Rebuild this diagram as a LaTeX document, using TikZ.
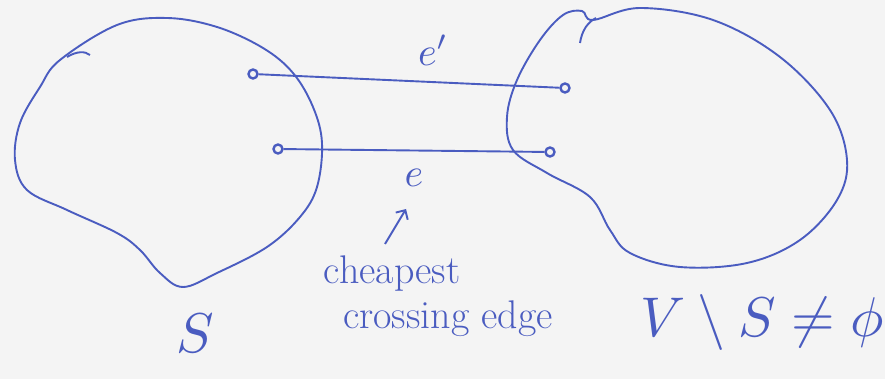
\documentclass[tikz,border=0pt]{standalone}
\usepackage{amsmath,amssymb}
\usepackage{tikz}
\usetikzlibrary{arrows.meta,positioning,calc}
\usepackage{xcolor}
\definecolor{pen}{HTML}{4A5CC0}
\definecolor{paper}{HTML}{F4F4F4}
\tikzset{
  vert/.style={circle, draw=pen, line width=2.4pt, fill=paper, inner sep=0pt, minimum size=9pt},
  cut/.style={pen, line width=1.9pt},
  hand/.style={pen, font=\fontsize{40}{42}\selectfont},
  mathlbl/.style={pen, scale=4, transform shape},
  big/.style={pen, scale=5.6, transform shape}
}
\begin{document}
\begin{tikzpicture}[x=1pt, y=-1pt]
\fill[paper] (0,0) rectangle (885,379);
\useasboundingbox (0,0) rectangle (885,379);
% =================== the two sides of the cut ===================
\draw[cut] plot[smooth cycle, tension=0.6] coordinates {
  (60,60) (117,25) (167,18) (217,27) (263,48) (293,73) (313,107)
  (322,143) (317,187) (300,217) (267,247) (217,273) (183,287)
  (160,273) (140,250) (117,233) (67,210) (27,190) (15,160)
  (20,123) (40,87)};
\draw[cut] (67,57) .. controls (77,51) and (85,51) .. (90,55);
\draw[cut] plot[smooth cycle, tension=0.6] coordinates {
  (593,20) (640,8) (713,20) (780,57) (830,110) (847,160) (837,200)
  (800,240) (747,263) (680,267) (630,253) (610,230) (590,197)
  (547,173) (513,150) (507,117) (517,80) (540,40) (563,15) (582,11)};
\draw[cut] (580,43) .. controls (582,30) and (588,22) .. (596,18);
% =================== crossing edges ===================
\node[vert] (ua) at (253,74) {};
\node[vert] (ub) at (278,149) {};
\node[vert] (va) at (565,88) {};
\node[vert] (vb) at (550,152) {};
\draw[cut] (ua) -- (va);
\draw[cut] (ub) -- (vb);
\node[mathlbl] (ea) at (433,50) {$e'$};
\node[mathlbl] (eb) at (414,178) {$e$};
% =================== labels ===================
\coordinate (tail) at (385,244);
\coordinate (tip) at (406,209);
\draw[cut, -{Straight Barb[length=7pt]}] (tail) -- (tip);
\node[hand] (cheap) at (392,274) {cheapest};
\node[hand, below=2pt of cheap, xshift=56pt] (cross) {crossing edge};
\node[big] (sname) at (195,333) {$S$};
\node[big] (rest) at (762,322) {$V\setminus S\neq\phi$};
\end{tikzpicture}
\end{document}
